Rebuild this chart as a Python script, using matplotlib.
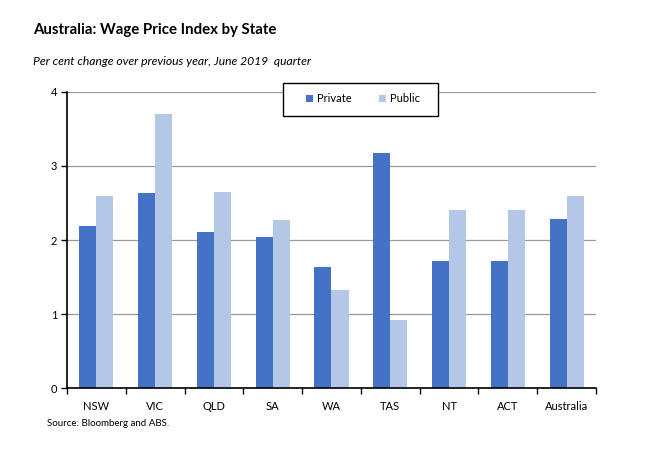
import matplotlib
matplotlib.use("Agg")
import matplotlib.pyplot as plt
from matplotlib.patches import Rectangle
import numpy as np

# data
states = ["NSW", "VIC", "QLD", "SA", "WA", "TAS", "NT", "ACT", "Australia"]
private = [2.19, 2.64, 2.11, 2.04, 1.64, 3.17, 1.72, 1.72, 2.29]
public = [2.60, 3.70, 2.65, 2.27, 1.33, 0.92, 2.41, 2.41, 2.59]
yticks = [0, 1, 2, 3, 4]

plt.rcParams['font.family'] = ['Lato', 'DejaVu Sans']

fig = plt.figure(figsize=(6.5, 4.55), dpi=100)
ax = fig.add_axes([0.103, 0.147, 0.814, 0.651])

x = np.arange(len(states))
w = 0.29
ax.bar(x - w / 2, private, w, color="#4472C4", label="Private", zorder=2)
ax.bar(x + w / 2, public, w, color="#B4C7E7", label="Public", zorder=2)

ax.set_xlim(-0.5, len(states) - 0.5)
ax.set_ylim(0, 4)
ax.set_yticks(yticks)
ax.set_yticklabels([str(t) for t in yticks], fontsize=8)
ax.yaxis.grid(True, color="#999999", linewidth=0.9, zorder=0)

# labels at group centres, tick marks between groups
ax.set_xticks(x)
ax.set_xticklabels(states, fontsize=8)
ax.tick_params(axis="x", length=0, pad=9)
ax.set_xticks(np.arange(-0.5, len(states)), minor=True)
ax.tick_params(axis="x", which="minor", length=4, width=1, direction="out")
ax.tick_params(axis="y", length=4, width=1, direction="out", pad=3)

for s in ["top", "right"]:
    ax.spines[s].set_visible(False)
for s in ["left", "bottom"]:
    ax.spines[s].set_color("black")
    ax.spines[s].set_linewidth(1.2)

# legend box drawn by hand so the padding can match
box = Rectangle((283 / 650, 1 - 116 / 455), 155 / 650, 33 / 455,
                transform=fig.transFigure, facecolor="white",
                edgecolor="black", linewidth=1.0, zorder=3, clip_on=False)
ax.add_patch(box)
leg = ax.legend(loc="center left", bbox_to_anchor=(306 / 650, 1 - 99 / 455),
                bbox_transform=fig.transFigure, ncol=2, frameon=False,
                fontsize=8, handlelength=0.6, handleheight=0.6,
                columnspacing=2.5, borderpad=0, borderaxespad=0,
                handletextpad=0.35)
leg.set_zorder(4)

fig.text(0.051, 0.935, "Australia: Wage Price Index by State",
         fontsize=10.8, fontweight="bold", va="center")
fig.text(0.051, 0.864, "Per cent change over previous year, June 2019  quarter",
         fontsize=8.7, style="italic", va="center")
fig.text(0.073, 0.07, "Source: Bloomberg and ABS.", fontsize=7, va="center")

fig.savefig("out.png", dpi=100)
